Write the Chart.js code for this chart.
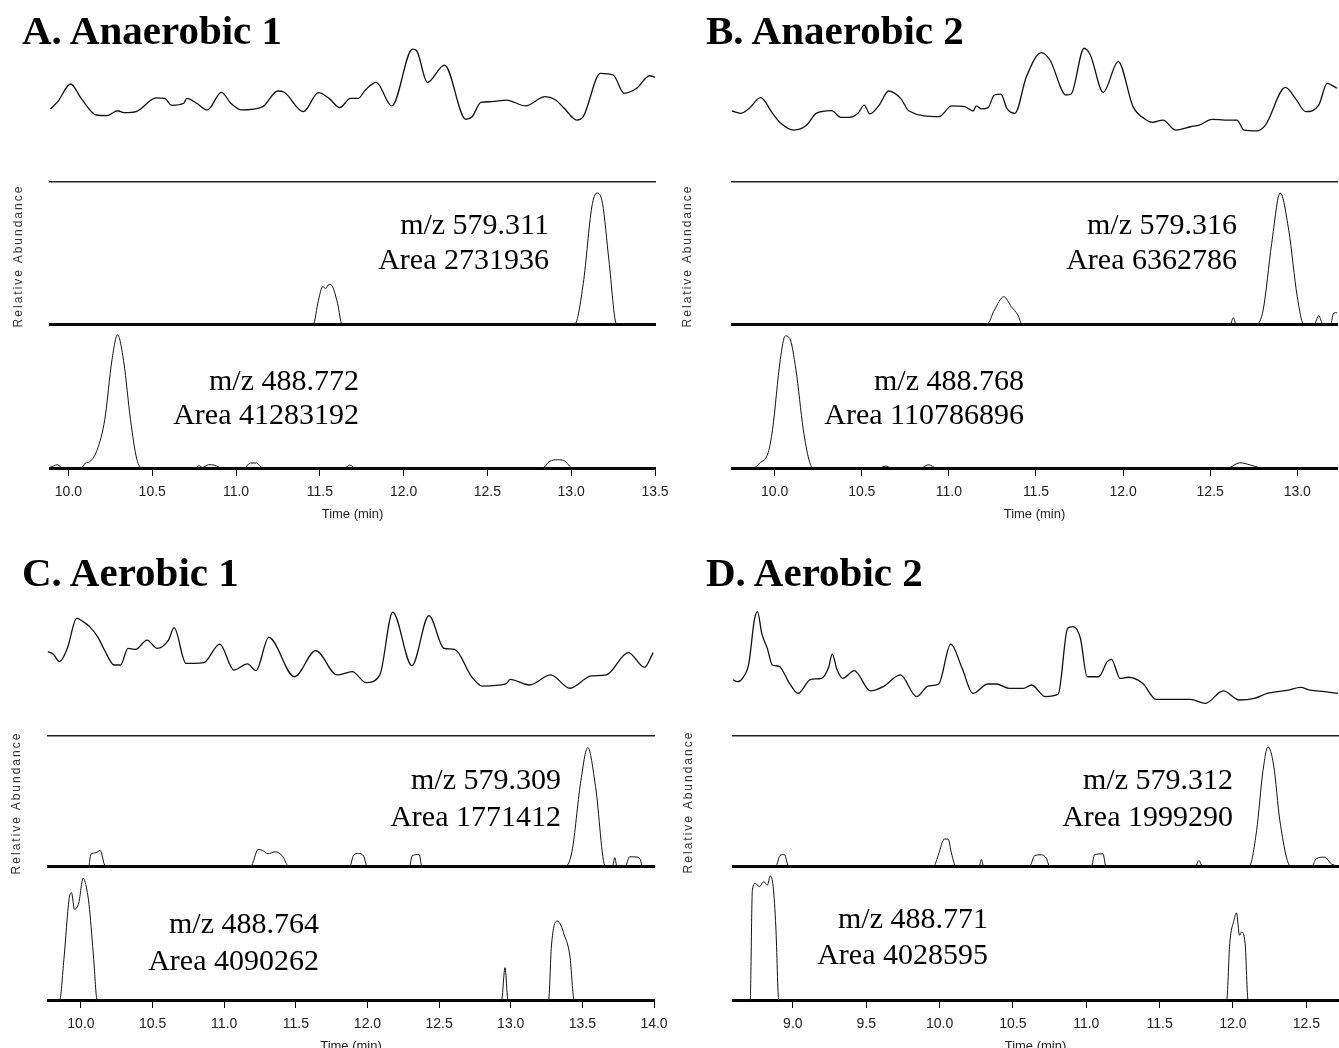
<!DOCTYPE html>
<html><head><meta charset="utf-8">
<script src="https://cdn.jsdelivr.net/npm/chart.js@4.4.1/dist/chart.umd.min.js"></script>
<style>
html,body{margin:0;padding:0;background:#fff;width:1339px;height:1048px;overflow:hidden;}
#root{position:relative;width:1339px;height:1048px;overflow:hidden;}
canvas{position:absolute;}
.t{position:absolute;font-family:"Liberation Serif","Times New Roman",serif;color:#000;white-space:nowrap;}
.title{font-weight:bold;font-size:41px;line-height:40px;}
.ann{font-size:30px;line-height:30px;text-align:right;width:400px;}
.ra{position:absolute;font-family:"Liberation Sans",Arial,sans-serif;font-size:12px;letter-spacing:2px;color:#333;transform:translate(-50%,-50%) rotate(-90deg);white-space:nowrap;}
</style></head><body><div id="root"></div>
<script>
// ---------------- DATA (time in min, relative abundance) ----------------
// Panel A: Anaerobic 1
const aTicks = [10.0, 10.5, 11.0, 11.5, 12.0, 12.5, 13.0, 13.5];
const aTicTime = [9.893,9.936,10.013,10.076,10.166,10.229,10.293,10.331,10.408,10.523,10.574,10.617,10.688,10.706,10.765,10.829,10.913,10.969,11.033,11.160,11.249,11.288,11.402,11.492,11.555,11.619,11.683,11.729,11.772,11.836,11.930,12.053,12.078,12.142,12.244,12.371,12.409,12.461,12.524,12.613,12.728,12.843,12.907,12.958,13.034,13.072,13.174,13.251,13.315,13.391,13.468,13.5];
const aTicVal  = [56.5,62.2,75.9,64.8,51.9,51.4,55.2,53.7,54.8,65.1,64.8,59.4,61.0,64.8,61.0,55.8,69.5,61.0,55.8,58.4,70.5,69.5,54.5,69.2,64.8,57.6,64.8,64.8,71.3,77.2,58.9,103.0,101.7,77.2,90.6,48.6,50.6,61.7,62.2,63.5,58.9,66.1,63.5,57.1,48.0,50.6,84.2,82.9,68.7,72.6,82.3,81.1];
const a579Time = [9.89,11.461,11.492,11.517,11.535,11.555,11.576,11.606,11.632,13.021,13.072,13.123,13.154,13.187,13.225,13.271,13.5];
const a579Val  = [0,0,18.5,28.9,27.6,30.7,28.9,16.0,0,0,31.4,90.7,101.5,93.3,49.5,0,0];
const a488Time = [9.89,9.936,9.962,10.076,10.102,10.127,10.173,10.217,10.260,10.293,10.331,10.370,10.408,10.439,10.76,10.778,10.80,10.82,10.836,10.87,10.892,10.91,11.05,11.084,11.122,11.16,11.65,11.678,11.71,12.83,12.868,12.919,12.958,13.009,13.5];
const a488Val  = [0.5,2.5,0,0,3.8,4.8,14.4,37.2,82.7,101.7,80.2,37.2,6.8,0,0,1.8,0.5,1.5,2.5,2.2,1.0,0,0,3.8,3.8,0,0,2.3,0,0,4.8,6.3,5.6,0,0];

// Panel B: Anaerobic 2
const bTicks = [10.0, 10.5, 11.0, 11.5, 12.0, 12.5, 13.0];
const bTicTime = [9.755,9.804,9.853,9.919,9.988,10.032,10.110,10.184,10.238,10.326,10.380,10.429,10.478,10.514,10.546,10.600,10.654,10.723,10.771,10.943,11.016,11.090,11.139,11.158,11.188,11.225,11.261,11.298,11.335,11.379,11.445,11.531,11.580,11.673,11.702,11.776,11.812,11.886,11.972,12.057,12.119,12.168,12.229,12.302,12.388,12.437,12.511,12.584,12.653,12.694,12.768,12.817,12.932,12.989,13.050,13.123,13.172,13.196,13.228];
const bTicVal  = [55.0,53.2,57.0,65.3,53.2,45.9,40.2,44.1,53.2,55.3,50.1,50.1,53.2,59.6,52.7,59.6,70.5,64.8,55.0,50.6,58.9,58.4,55.0,58.9,56.6,57.6,67.4,68.0,56.6,53.2,81.6,100.2,94.5,67.4,68.2,103.6,98.4,69.5,93.3,58.4,49.3,46.2,48.0,40.2,42.8,44.1,48.5,48.0,48.0,40.2,39.6,44.1,73.3,64.8,54.5,59.6,76.4,75.1,72.6];
const b579Time = [9.755,11.220,11.261,11.315,11.359,11.396,11.420,12.616,12.633,12.648,12.768,12.804,12.853,12.902,12.951,13.000,13.037,13.098,13.123,13.147,13.191,13.208,13.228];
const b579Val  = [0,0,10.8,21.1,13.4,7.0,0,0,4.9,0,0,10.8,62.3,101.5,72.6,21.1,0,0,6.4,0,0,8.2,8.8];
const b488Time = [9.755,9.878,9.914,9.963,9.988,10.032,10.061,10.086,10.122,10.164,10.196,10.220,10.60,10.637,10.67,10.84,10.882,10.93,12.60,12.670,12.731,12.775,12.80,13.228];
const b488Val  = [0,0,3.8,11.9,29.6,82.7,100.9,99.1,75.1,29.6,6.8,0,0,1.5,0,0,2.5,0,0,4.0,2.3,0.5,0,0];

// Panel C: Aerobic 1
const cTicks = [10.0, 10.5, 11.0, 11.5, 12.0, 12.5, 13.0, 13.5, 14.0];
const cTicTime = [9.769,9.806,9.851,9.905,9.970,10.015,10.060,10.119,10.164,10.232,10.277,10.328,10.381,10.462,10.531,10.611,10.650,10.733,10.790,10.858,10.969,11.067,11.162,11.222,11.311,11.490,11.639,11.788,11.893,11.991,12.086,12.176,12.310,12.429,12.534,12.608,12.727,12.802,12.966,12.996,13.130,13.279,13.413,13.562,13.666,13.821,13.934,13.994];
const cTicVal  = [65.3,63.5,57.6,67.9,91.1,88.6,84.7,76.4,66.6,55.0,55.0,67.9,67.1,74.3,67.9,74.3,83.9,56.3,56.3,56.8,71.2,51.1,55.8,50.6,76.4,45.9,66.1,47.3,49.9,41.3,47.3,95.9,54.5,93.3,67.9,67.1,45.9,38.7,40.3,43.9,39.5,47.3,37.0,46.5,47.3,64.6,53.2,64.6];
const c579Time = [9.77,10.054,10.069,10.104,10.134,10.170,11.186,11.237,11.267,11.305,11.356,11.407,11.449,11.878,11.902,11.937,11.973,11.997,12.295,12.310,12.361,12.379,13.383,13.428,13.487,13.538,13.592,13.660,13.711,13.726,13.741,13.800,13.830,13.874,13.904,13.919,14.0];
const c579Val  = [0,0,9.8,11.2,13.2,0,0,14.0,13.2,10.4,12.0,8.4,0,0,9.0,10.6,8.4,0,0,8.4,9.8,0,0,12.6,70.0,100.2,67.2,0,0,7.0,0,0,7.8,7.6,5.6,0,0];
const c488Time = [9.77,9.851,9.881,9.917,9.934,9.955,9.985,10.015,10.045,10.060,10.089,10.113,12.936,12.960,12.981,13.264,13.284,13.323,13.353,13.368,13.413,13.443,14.0];
const c488Val  = [0,0,33.4,82.6,88.1,74.4,79.9,99.9,88.1,74.4,33.4,0,0,26.5,0,0,44.3,64.8,60.7,55.3,36.1,0,0];

// Panel D: Aerobic 2
const dTicks = [9.0, 9.5, 10.0, 10.5, 11.0, 11.5, 12.0, 12.5];
const dTicTime = [8.593,8.622,8.657,8.700,8.738,8.759,8.788,8.826,8.860,8.904,8.977,9.035,9.122,9.195,9.244,9.268,9.302,9.340,9.419,9.442,9.529,9.616,9.733,9.843,9.922,9.994,10.076,10.154,10.227,10.329,10.387,10.474,10.570,10.628,10.721,10.809,10.873,10.910,10.960,11.006,11.085,11.143,11.172,11.230,11.289,11.384,11.477,11.710,11.812,11.934,12.044,12.146,12.234,12.379,12.460,12.524,12.626,12.716];
const dTicVal  = [43.4,42.1,44.7,56.3,90.1,96.3,79.5,67.9,55.0,54.2,40.8,33.0,43.9,44.7,53.2,63.5,51.1,44.7,50.6,48.5,34.9,38.2,47.3,30.5,38.7,40.3,71.2,52.4,33.0,40.3,40.3,36.9,36.9,39.5,30.5,32.5,83.4,84.7,75.7,45.9,45.9,57.6,59.4,44.7,45.5,40.8,28.4,28.4,25.3,34.9,27.9,29.2,33.0,35.6,37.7,35.6,34.3,33.0];
const d579Time = [8.592,8.884,8.913,8.942,8.971,9.960,9.994,10.032,10.058,10.082,10.111,10.271,10.285,10.300,10.614,10.649,10.692,10.727,10.750,11.036,11.056,11.114,11.134,11.745,11.768,11.791,12.111,12.161,12.204,12.239,12.277,12.320,12.393,12.538,12.568,12.626,12.669,12.716];
const d579Val  = [0,0,8.9,9.7,0,0,10.3,22.8,22.8,10.3,0,0,5.6,0,0,8.9,9.5,6.7,0,0,9.7,10.3,0,0,4.7,0,0,29.8,79.9,100.8,85.5,38.2,0,0,6.1,7.5,1.9,0];
const d488Time = [8.592,8.709,8.724,8.744,8.773,8.802,8.826,8.846,8.866,8.884,8.904,11.957,11.978,12.007,12.024,12.045,12.059,12.083,12.103,12.716];
const d488Val  = [0,0,90.2,95.7,93.0,97.1,94.3,101.8,93.0,60.0,0,0,46.2,65.5,71.5,53.1,55.8,46.2,0,0];

// ---------------- LAYOUT ----------------
const panels = [
  {title:'A. Anaerobic 1', tx:22, ty:30, xMin:9.89, xMax:13.5, left:50, width:605, rows:[40,182,324,468], ticks:aTicks,
   tic:[aTicTime,aTicVal], mz1:[a579Time,a579Val], mz2:[a488Time,a488Val], ra:[18,256],
   ann1:{right:549, lines:['m/z 579.311','Area 2731936'], cy:[224,259]}, ann2:{right:359, lines:['m/z 488.772','Area 41283192'], cy:[380,414]}},
  {title:'B. Anaerobic 2', tx:706, ty:30, xMin:9.755, xMax:13.228, left:732, width:605, rows:[40,182,324,468], ticks:bTicks,
   tic:[bTicTime,bTicVal], mz1:[b579Time,b579Val], mz2:[b488Time,b488Val], ra:[687,256],
   ann1:{right:1237, lines:['m/z 579.316','Area 6362786'], cy:[224,259]}, ann2:{right:1024, lines:['m/z 488.768','Area 110786896'], cy:[380,414]}},
  {title:'C. Aerobic 1', tx:22, ty:572, xMin:9.77, xMax:14.0, left:48, width:606, rows:[594,736,866,1000], ticks:cTicks,
   tic:[cTicTime,cTicVal], mz1:[c579Time,c579Val], mz2:[c488Time,c488Val], ra:[16,803],
   ann1:{right:561, lines:['m/z 579.309','Area 1771412'], cy:[779,816]}, ann2:{right:319, lines:['m/z 488.764','Area 4090262'], cy:[923,960]}},
  {title:'D. Aerobic 2', tx:706, ty:572, xMin:8.592, xMax:12.716, left:733, width:605, rows:[594,736,866,1000], ticks:dTicks,
   tic:[dTicTime,dTicVal], mz1:[d579Time,d579Val], mz2:[d488Time,d488Val], ra:[688,802],
   ann1:{right:1233, lines:['m/z 579.312','Area 1999290'], cy:[779,816]}, ann2:{right:988, lines:['m/z 488.771','Area 4028595'], cy:[918,954]}}
];

const root = document.getElementById('root');
const PAD = 24, EXT = 5, AXIS_H = 54, YMAX = 110;
const SANS = '"Liberation Sans Narrow", "Liberation Sans", Arial, sans-serif';

function addCanvas(left, top, w, h) {
  const c = document.createElement('canvas');
  c.width = w; c.height = h;
  c.style.left = left + 'px'; c.style.top = top + 'px';
  c.style.width = w + 'px'; c.style.height = h + 'px';
  root.appendChild(c);
  return c;
}
function addText(cls, txt, left, top, extra) {
  const d = document.createElement('div');
  d.className = cls; d.textContent = txt;
  d.style.left = left + 'px'; d.style.top = top + 'px';
  if (extra) Object.assign(d.style, extra);
  root.appendChild(d);
  return d;
}
function lineDs(t, v, w) {
  return { data: t.map((x, i) => ({x: x, y: v[i]})), borderColor: '#111', borderWidth: w,
           pointRadius: 0, fill: false, cubicInterpolationMode: 'monotone', clip: 2 };
}
const hiddenAxis = (extra) => Object.assign({display: false}, extra || {});
const base = (padTop, padBottom) => ({
  responsive: false, animation: false, events: [],
  layout: {padding: {left: PAD, right: PAD, top: padTop, bottom: padBottom}},
  plugins: {legend: {display: false}, tooltip: {enabled: false}, title: {display: false}}
});

panels.forEach(p => {
  const [r0, r1, r2, r3] = p.rows;
  const cw = p.width + 2 * PAD, cl = p.left - PAD;

  // top trace (total ion current style)
  new Chart(addCanvas(cl, r0 - EXT, cw, r1 - r0 + 2 * EXT), {
    type: 'line',
    data: {datasets: [lineDs(p.tic[0], p.tic[1], 1.3)]},
    options: Object.assign(base(EXT, EXT), {
      scales: {x: hiddenAxis({type: 'linear', min: p.xMin, max: p.xMax}), y: hiddenAxis({min: 0, max: YMAX})}
    })
  });

  // middle trace (m/z 579)
  const borderOnly = (pos, w, col) => ({
    type: 'linear', position: pos, min: p.xMin, max: p.xMax, display: true,
    grid: {display: false, drawTicks: false}, ticks: {display: false},
    border: {display: true, width: w, color: col}
  });
  new Chart(addCanvas(cl, r1 - EXT, cw, r2 - r1 + 2 * EXT), {
    type: 'line',
    data: {datasets: [lineDs(p.mz1[0], p.mz1[1], 1)]},
    options: Object.assign(base(EXT, EXT), {
      scales: {x: borderOnly('bottom', 3, '#000'), xTop: borderOnly('top', 1.5, '#222'), y: hiddenAxis({min: 0, max: YMAX})}
    })
  });

  // bottom trace (m/z 488) with time axis
  new Chart(addCanvas(cl, r2 - EXT, cw, r3 - r2 + EXT + AXIS_H), {
    type: 'line',
    data: {datasets: [lineDs(p.mz2[0], p.mz2[1], 1)]},
    options: Object.assign(base(EXT, 0), {
      scales: {
        x: {
          type: 'linear', position: 'bottom', min: p.xMin, max: p.xMax,
          afterBuildTicks: s => { s.ticks = p.ticks.map(v => ({value: v})); },
          afterFit: s => { s.height = AXIS_H; },
          grid: {display: true, drawOnChartArea: false, drawTicks: true, tickLength: 8, color: '#000', lineWidth: 1},
          border: {display: true, width: 3, color: '#000'},
          ticks: {display: true, autoSkip: false, maxRotation: 0, padding: 8, color: '#222',
                  font: {family: SANS, size: 14},
                  callback: v => Number(v).toFixed(1)},
          title: {display: true, text: 'Time (min)', color: '#222', padding: {top: 0, bottom: 0},
                  font: {family: SANS, size: 13}}
        },
        y: hiddenAxis({min: 0, max: YMAX})
      }
    })
  });

  // texts
  addText('t title', p.title, p.tx, p.ty - 20);
  [p.ann1, p.ann2].forEach(a => {
    a.lines.forEach((ln, i) => addText('t ann', ln, a.right - 400, a.cy[i] - 15));
  });
  addText('ra', 'Relative Abundance', p.ra[0], p.ra[1]);
});
</script></body></html>
